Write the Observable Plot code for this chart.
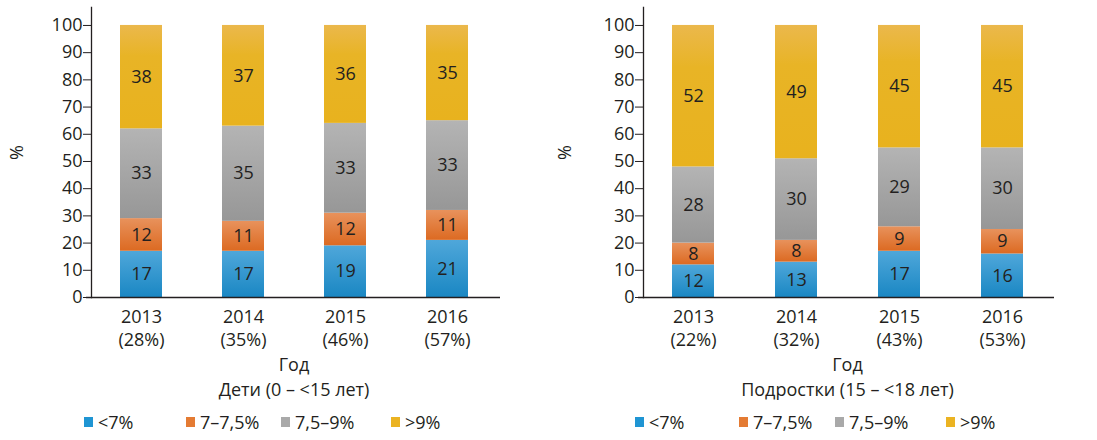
<!DOCTYPE html>
<html><head><meta charset="utf-8">
<script src="https://cdn.jsdelivr.net/npm/d3@7"></script>
<script src="https://cdn.jsdelivr.net/npm/@observablehq/plot@0.6"></script>
<style>
body{margin:0;background:#fff;font-family:"Open Sans",sans-serif;color:#231f20}
#wrap{position:relative;width:1097px;height:440px;overflow:hidden}
.panel{position:absolute;top:0}
.lbl{position:absolute;transform:translate(-50%,-50%);font-size:18px;white-space:nowrap;line-height:1}
.leg{position:absolute;font-size:18px;display:flex;align-items:center;transform:translateY(-50%);white-space:nowrap;line-height:1}
.sw{width:9px;height:10px;margin-right:5px}
</style></head><body>
<svg width="0" height="0" style="position:absolute">
  <defs>
    <linearGradient id="gBlue" x1="0" y1="0" x2="0" y2="1"><stop offset="0" stop-color="#4fa7da"/><stop offset="1" stop-color="#1a87c3"/></linearGradient>
    <linearGradient id="gOrange" x1="0" y1="0" x2="0" y2="1"><stop offset="0" stop-color="#e8925c"/><stop offset="1" stop-color="#dc6a22"/></linearGradient>
    <linearGradient id="gGray" x1="0" y1="0" x2="0" y2="1"><stop offset="0" stop-color="#b4b4b4"/><stop offset="1" stop-color="#979797"/></linearGradient>
    <linearGradient id="gYellow" x1="0" y1="0" x2="0" y2="1"><stop offset="0" stop-color="#ebb84c"/><stop offset="0.3" stop-color="#e8b426"/><stop offset="1" stop-color="#e8b21e"/></linearGradient>
  </defs>
</svg>
<div id="wrap"></div>
<script>
const years = ["2013", "2014", "2015", "2016"];
const cats = ["<7%", "7–7,5%", "7,5–9%", ">9%"];

// Дети (0 – <15 лет)
const childShare = ["28%", "35%", "46%", "57%"];
const childLt7 = [17, 17, 19, 21];
const child7to75 = [12, 11, 12, 11];
const child75to9 = [33, 35, 33, 33];
const childGt9 = [38, 37, 36, 35];

// Подростки (15 – <18 лет)
const teenShare = ["22%", "32%", "43%", "53%"];
const teenLt7 = [12, 13, 17, 16];
const teen7to75 = [8, 8, 9, 9];
const teen75to9 = [28, 30, 29, 30];
const teenGt9 = [52, 49, 45, 45];

const yTicks = [0, 10, 20, 30, 40, 50, 60, 70, 80, 90, 100];
const xLabel = "Год";
const childTitle = "Дети (0 – <15 лет)";
const teenTitle = "Подростки (15 – <18 лет)";

const grads = ["url(#gBlue)", "url(#gOrange)", "url(#gGray)", "url(#gYellow)"];
const swatch = ["#1f95d3", "#e47b33", "#a9a9a9", "#ebb322"];
const ink = "#231f20";

function makePanel(series, shares, opts) {
  const data = [];
  cats.forEach((c, ci) => years.forEach((y, yi) => data.push({year: y, cat: c, value: series[ci][yi]})));
  const shareMap = new Map(years.map((y, i) => [y, shares[i]]));
  return Plot.plot({
    width: opts.width, height: 350,
    marginLeft: opts.ml, marginRight: opts.mr, marginTop: 7, marginBottom: 53,
    style: {fontFamily: "Open Sans", fontSize: "18px", color: ink, background: "transparent", overflow: "visible"},
    x: {domain: years, paddingInner: 0.59, paddingOuter: 0.28},
    y: {domain: [0, 106.6]},
    color: {domain: cats, range: grads},
    marks: [
      Plot.barY(data, {x: "year", y: "value", fill: "cat"}),
      Plot.text(data, Plot.stackY({x: "year", y: "value", z: "cat", text: d => String(d.value), fontSize: 18, fill: ink})),
      Plot.axisY({ticks: yTicks, tickSize: 8, tickPadding: 1, fontSize: 18, label: "%", labelAnchor: "center", labelOffset: opts.ml - 10, labelArrow: "none", stroke: ink, fill: ink}),
      Plot.axisX({tickSize: 0, tickPadding: 8, tickFormat: y => `${y}\n(${shareMap.get(y)})`, label: null, lineHeight: 1.33, fontSize: 18, fill: ink}),
      Plot.frame({anchor: "left", stroke: ink, strokeWidth: 1.3}),
      Plot.ruleY([0], {stroke: ink, strokeWidth: 1.3, insetLeft: -5, insetRight: opts.ext})
    ]
  });
}

const wrap = document.getElementById("wrap");
function addPanel(left, width, ml, mr, ext, series, shares, title, legendX) {
  const div = document.createElement("div");
  div.className = "panel";
  div.style.left = left + "px";
  div.appendChild(makePanel(series, shares, {width, ml, mr, ext}));
  wrap.appendChild(div);
  const cx = left + ml + (width - ml - mr) / 2;
  const l1 = document.createElement("div"); l1.className = "lbl"; l1.textContent = xLabel;
  l1.style.left = cx + "px"; l1.style.top = "364px"; wrap.appendChild(l1);
  const l2 = document.createElement("div"); l2.className = "lbl"; l2.textContent = title;
  l2.style.left = cx + "px"; l2.style.top = "389px"; wrap.appendChild(l2);
  cats.forEach((c, i) => {
    const it = document.createElement("div"); it.className = "leg";
    it.style.left = legendX[i] + "px"; it.style.top = "422px";
    it.innerHTML = `<span class="sw" style="background:${swatch[i]}"></span><span></span>`;
    it.lastChild.textContent = c;
    wrap.appendChild(it);
  });
}

addPanel(0, 548, 91, 51, -3, [childLt7, child7to75, child75to9, childGt9], childShare, childTitle, [84, 186, 281, 391]);
addPanel(548, 549, 95, 45, -2, [teenLt7, teen7to75, teen75to9, teenGt9], teenShare, teenTitle, [635, 739, 835, 946]);
</script>
</body></html>
